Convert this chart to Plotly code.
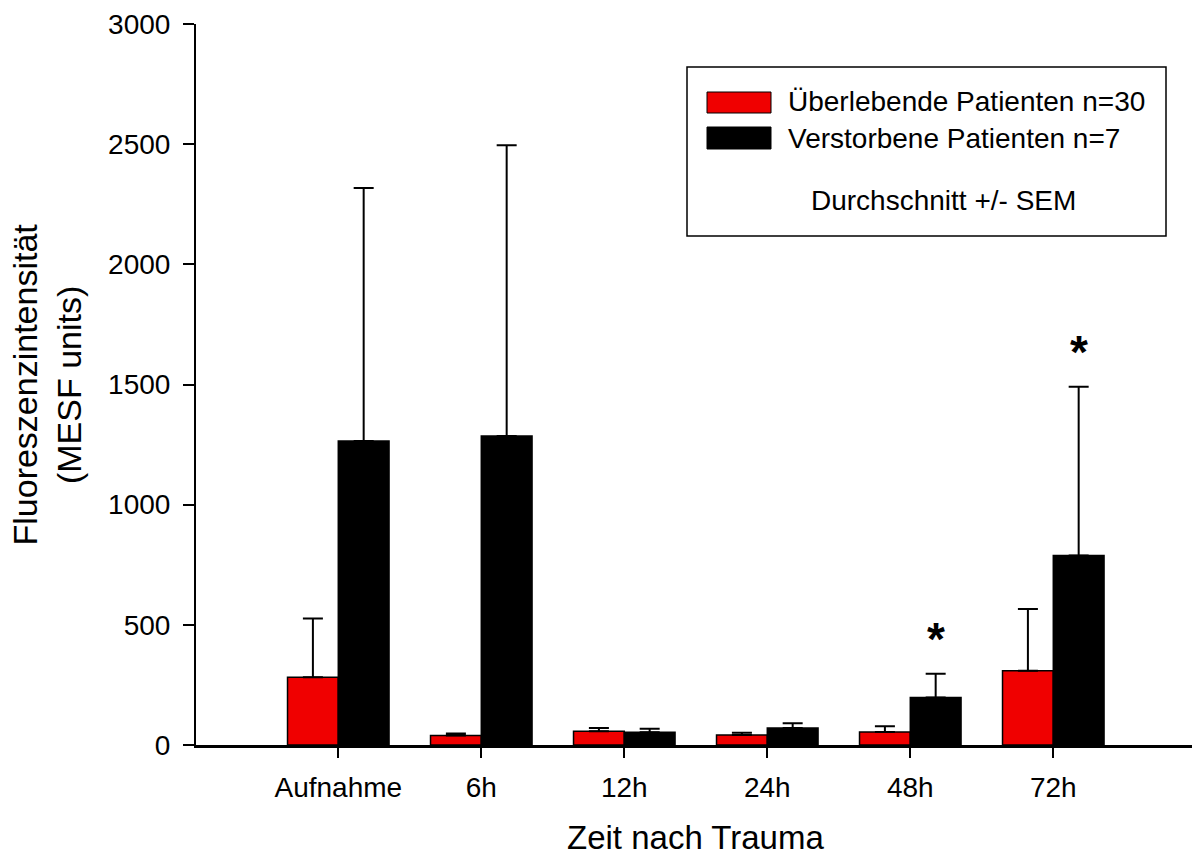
import plotly.graph_objects as go

# Time points after trauma
categories = ["Aufnahme", "6h", "12h", "24h", "48h", "72h"]

# Mean fluorescence intensity (MESF units) and SEM per group
survivors_mean = [282, 40, 57, 42, 54, 309]
survivors_sem = [244, 8, 14, 9, 24, 257]
deceased_mean = [1265, 1286, 53, 71, 198, 789]
deceased_sem = [1053, 1209, 15, 20, 98, 702]

# Time points with a significant difference
significant = ["48h", "72h"]

y_ticks = [0, 500, 1000, 1500, 2000, 2500, 3000]

RED = "#F00000"
FONT = "Liberation Sans, Arial, sans-serif"

W, H = 1192, 858
ML, MR, MT, MB = 196, 0, 24, 113
PW = W - ML - MR
PH = H - MT - MB


def px_x(p):
    return (p - ML) / PW


def px_y(p):
    return (H - MB - p) / PH


x_idx = list(range(len(categories)))

fig = go.Figure()
fig.add_trace(go.Bar(
    x=x_idx, y=survivors_mean, name="Überlebende Patienten n=30",
    marker=dict(color=RED, line=dict(color="black", width=1.5)),
    error_y=dict(type="data", array=survivors_sem, arrayminus=[0] * len(categories),
                 symmetric=False, color="black", thickness=2, width=10),
    showlegend=False,
))
fig.add_trace(go.Bar(
    x=x_idx, y=deceased_mean, name="Verstorbene Patienten n=7",
    marker=dict(color="black", line=dict(color="black", width=1.5)),
    error_y=dict(type="data", array=deceased_sem, arrayminus=[0] * len(categories),
                 symmetric=False, color="black", thickness=2, width=10),
    showlegend=False,
))

bargap = 0.29
half = (1 - bargap) / 4  # centre offset of each bar inside its group

annotations = []
for cat in significant:
    i = categories.index(cat)
    annotations.append(dict(
        x=i + half, y=deceased_mean[i] + deceased_sem[i], xref="x", yref="y",
        text="<b>*</b>", showarrow=False, yanchor="bottom", yshift=7,
        font=dict(family=FONT, size=46, color="black"),
    ))

# Axis titles
annotations.append(dict(
    x=px_x(695), y=px_y(858), xref="paper", yref="paper",
    text="Zeit nach Trauma", showarrow=False, xanchor="center", yanchor="bottom",
    font=dict(family=FONT, size=33, color="black"),
))
annotations.append(dict(
    x=px_x(46), y=0.5, xref="paper", yref="paper",
    text="Fluoreszenzintensität<br>(MESF units)", showarrow=False, textangle=-90,
    xanchor="center", yanchor="middle",
    font=dict(family=FONT, size=34, color="black"),
))

# Legend block
shapes = [
    dict(type="rect", xref="paper", yref="paper",
         x0=px_x(687), x1=px_x(1166), y0=px_y(236), y1=px_y(67),
         line=dict(color="black", width=1.5), fillcolor="white", layer="below"),
    dict(type="rect", xref="paper", yref="paper",
         x0=px_x(707), x1=px_x(771), y0=px_y(113), y1=px_y(92),
         line=dict(color="black", width=1), fillcolor=RED),
    dict(type="rect", xref="paper", yref="paper",
         x0=px_x(707), x1=px_x(771), y0=px_y(149), y1=px_y(127),
         line=dict(color="black", width=1), fillcolor="black"),
]
annotations.append(dict(
    x=px_x(786), y=px_y(102), xref="paper", yref="paper",
    text="Überlebende Patienten n=30", showarrow=False, xanchor="left", yanchor="middle",
    font=dict(family=FONT, size=28, color="black"),
))
annotations.append(dict(
    x=px_x(786), y=px_y(138), xref="paper", yref="paper",
    text="Verstorbene Patienten n=7", showarrow=False, xanchor="left", yanchor="middle",
    font=dict(family=FONT, size=28, color="black"),
))
annotations.append(dict(
    x=px_x(943), y=px_y(200), xref="paper", yref="paper",
    text="Durchschnitt +/- SEM", showarrow=False, xanchor="center", yanchor="middle",
    font=dict(family=FONT, size=28, color="black"),
))

fig.update_layout(
    width=W, height=H,
    margin=dict(l=ML, r=MR, t=MT, b=MB),
    paper_bgcolor="white", plot_bgcolor="white",
    barmode="group", bargap=bargap, bargroupgap=0,
    font=dict(family=FONT, color="black"),
    shapes=shapes, annotations=annotations,
    xaxis=dict(
        range=[-0.995, 5.97], tickmode="array", tickvals=x_idx, ticktext=categories,
        showgrid=False, zeroline=False, showline=True, linecolor="black", linewidth=2.5,
        ticks="outside", ticklen=10, tickwidth=2, tickcolor="black",
        tickfont=dict(family=FONT, size=28, color="black"), ticklabelstandoff=6,
    ),
    yaxis=dict(
        range=[0, 3000], tickmode="array", tickvals=y_ticks,
        showgrid=False, zeroline=False, showline=True, linecolor="black", linewidth=2,
        ticks="outside", ticklen=11, tickwidth=2, tickcolor="black",
        tickfont=dict(family=FONT, size=28, color="black"), ticklabelstandoff=7,
    ),
)

fig.write_html("out.html")
